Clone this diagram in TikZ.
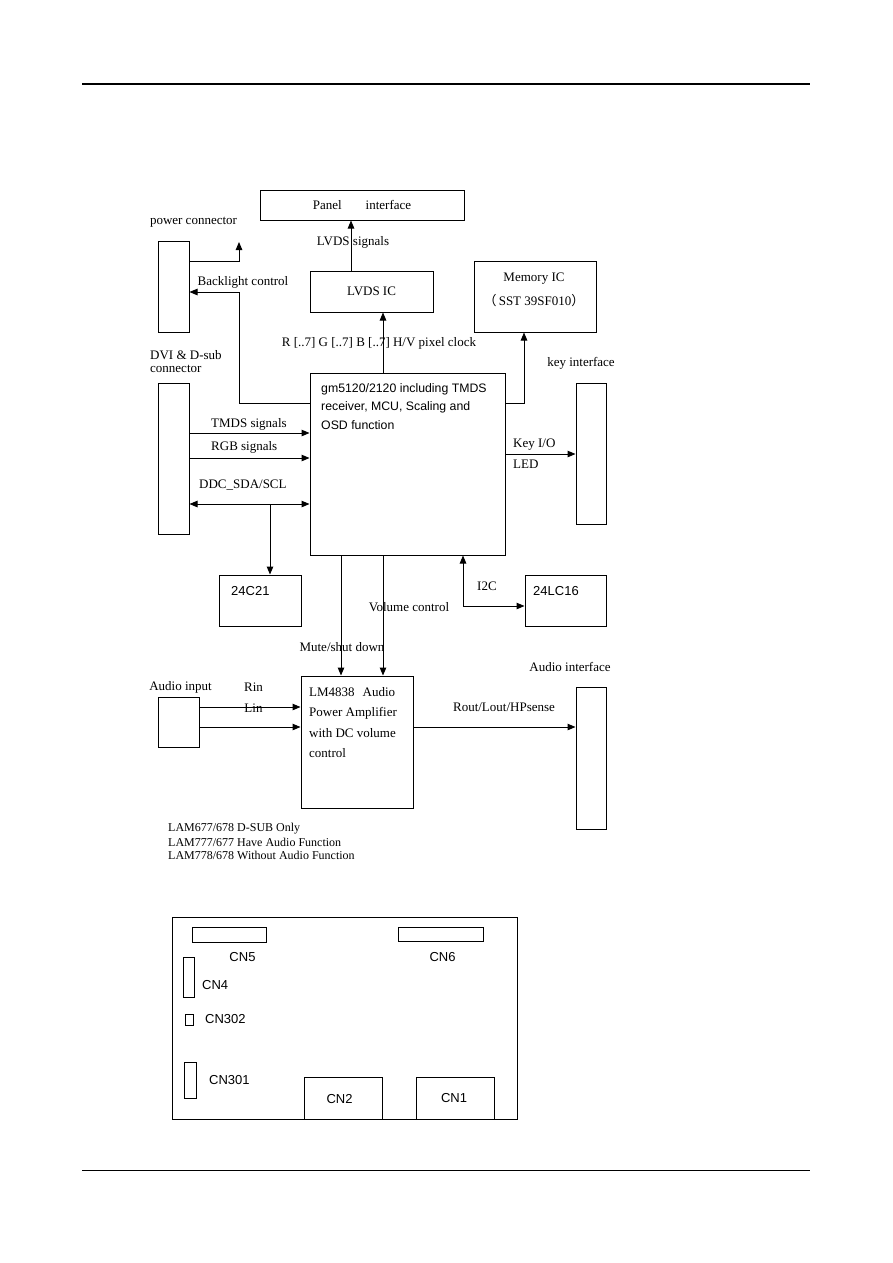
\documentclass[tikz,border=0pt]{standalone}
\usepackage{fontspec}
\setmainfont{Liberation Serif}
\newfontfamily\sansf{Liberation Sans}
\newfontfamily\cjk{Noto Sans CJK SC}
\usetikzlibrary{arrows.meta}
\begin{document}
\begin{tikzpicture}[x=1pt,y=-1pt,
  box/.style={draw, line width=1pt, inner sep=0pt, anchor=center},
  lbl/.style={font=\fontsize{13}{15}\selectfont, inner sep=0pt},
  gmt/.style={font=\sansf\fontsize{12.3}{14}\selectfont, inner sep=0pt, anchor=west},
  note/.style={font=\fontsize{12}{13}\selectfont, inner sep=0pt, anchor=west},
  cn/.style={font=\sansf\fontsize{13}{15}\selectfont, inner sep=0pt},
  arr/.style={line width=1pt, -{Triangle[length=8pt,width=6.5pt]}},
  darr/.style={line width=1pt, {Triangle[length=8pt,width=6.5pt]}-{Triangle[length=8pt,width=6.5pt]}},
  ln/.style={line width=1pt}]
\useasboundingbox (0,0) rectangle (893,1263);
\fill[white] (0,0) rectangle (893,1263);
% header / footer rules
\coordinate (hl) at (82,84); \coordinate (hr) at (810,84);
\draw[line width=1.6pt] (hl) -- (hr);
\coordinate (fl) at (82,1170); \coordinate (fr) at (810,1170);
\draw[line width=0.8pt] (fl) -- (fr);

% boxes
\node[box, minimum width=204pt, minimum height=30pt, lbl] (panel) at (362,205) {Panel\hspace{24pt}interface};
\node[box, minimum width=31pt, minimum height=91pt] (pwr) at (173.5,286.5) {};
\node[box, minimum width=123pt, minimum height=41pt, lbl] (lvds) at (371.5,291.5) {LVDS IC};
\node[box, minimum width=122pt, minimum height=71pt] (mem) at (535,296.5) {};
\node[box, minimum width=30pt, minimum height=141pt] (key) at (591,453.5) {};
\node[box, minimum width=195pt, minimum height=182pt] (gm) at (407.5,464) {};
\node[box, minimum width=31pt, minimum height=151pt] (dvi) at (173.5,458.5) {};
\node[box, minimum width=82pt, minimum height=51pt] (c21) at (260,600.5) {};
\node[box, minimum width=81pt, minimum height=51pt] (lc16) at (565.5,600.5) {};
\node[box, minimum width=112pt, minimum height=132pt] (lm) at (357,742) {};
\node[box, minimum width=41pt, minimum height=50pt] (ain) at (178.5,722) {};
\node[box, minimum width=30pt, minimum height=142pt] (aif) at (591,758) {};

% texts
\node[lbl] (tpwr) at (193.5,222) {power connector};
\node[lbl] (tbl) at (243,282) {Backlight control};
\node[lbl] (tlvds) at (353,242) {LVDS signals};
\node[lbl] (trgb) at (379,343) {R [..7] G [..7] B [..7] H/V pixel clock};
\node[lbl, anchor=west] (tdvi1) at (150,355) {DVI \& D-sub};
\node[lbl, anchor=west] (tdvi2) at (150,369) {connector};
\node[lbl] (tmem1) at (534,279) {Memory IC};
\node[lbl] (tmem2) at (534,301) {{\cjk （}\,SST 39SF010{\cjk ）}};
\node[lbl] (tkey) at (581,363) {key interface};
\node[gmt] (gm1) at (321,389) {gm5120/2120 including TMDS};
\node[gmt] (gm2) at (321,407) {receiver, MCU, Scaling and};
\node[gmt] (gm3) at (321,425) {OSD function};
\node[lbl, anchor=west] (tkio) at (513,445) {Key I/O};
\node[lbl, anchor=west] (tled) at (513,464) {LED};
\node[lbl, anchor=west] (ttmds) at (211,424) {TMDS signals};
\node[lbl, anchor=west] (trgbs) at (211,447) {RGB signals};
\node[lbl, anchor=west] (tddc) at (199,485) {DDC\_SDA/SCL};
\node[cn, anchor=west] (t21) at (231,591) {24C21};
\node[lbl, anchor=west] (ti2c) at (477,586) {I2C};
\node[cn, anchor=west] (t16) at (533,591) {24LC16};
\node[lbl] (tvol) at (409,607) {Volume control};
\node[lbl] (tmute) at (342,647) {Mute/shut down};
\node[lbl] (taif) at (570,667) {Audio interface};
\node[lbl] (tain) at (180.5,687) {Audio input};
\node[lbl] (trin) at (253.5,687) {Rin};
\node[lbl] (tlin) at (253.5,708) {Lin};
\node[lbl, anchor=west] (tlm1) at (309,692) {LM4838\hspace{8pt}Audio};
\node[lbl, anchor=west] (tlm2) at (309,713) {Power Amplifier};
\node[lbl, anchor=west] (tlm3) at (309,733) {with DC volume};
\node[lbl, anchor=west] (tlm4) at (309,753) {control};
\node[lbl] (trout) at (504,707) {Rout/Lout/HPsense};
\node[note] (n1) at (168,829) {LAM677/678 D-SUB Only};
\node[note] (n2) at (168,842) {LAM777/677 Have Audio Function};
\node[note] (n3) at (168,855) {LAM778/678 Without Audio Function};

% connectors
\coordinate (pwrtip) at (239,242);
\draw[arr] ([yshift=25.5pt]pwr.east) -| (pwrtip);
\coordinate (bl) at (239,292);
\draw[arr] ([yshift=61pt]gm.west) -| (bl) -- (bl -| pwr.east);
\draw[arr] ([xshift=-20.5pt]lvds.north) -- ([xshift=-20.5pt]lvds.north |- panel.south);
\draw[arr] ([xshift=-24.5pt]gm.north) -- ([xshift=-24.5pt]gm.north |- lvds.south);
\draw[arr] ([yshift=61pt]gm.east) -| ([xshift=-11pt]mem.south);
\draw[arr] ([yshift=10pt]gm.east) -- ([yshift=10pt]gm.east -| key.west);
\draw[arr] ([yshift=25.5pt]dvi.east) -- ([yshift=25.5pt]dvi.east -| gm.west);
\draw[arr] ([yshift=0.5pt]dvi.east) -- ([yshift=0.5pt]dvi.east -| gm.west);
\draw[darr] ([yshift=-45.5pt]dvi.east) -- ([yshift=-45.5pt]dvi.east -| gm.west);
\coordinate (ddcj) at (270,504);
\draw[arr] (ddcj) -- (ddcj |- c21.north);
\draw[darr] ([xshift=55.5pt]gm.south) |- ([yshift=-5.5pt]lc16.west);
\draw[arr] ([xshift=-66.5pt]gm.south) -- ([xshift=-66.5pt]gm.south |- lm.north);
\draw[arr] ([xshift=-24.5pt]gm.south) -- ([xshift=-24.5pt]gm.south |- lm.north);
\draw[arr] ([yshift=15pt]ain.east) -- ([yshift=15pt]ain.east -| lm.west);
\draw[arr] ([yshift=-5pt]ain.east) -- ([yshift=-5pt]ain.east -| lm.west);
\draw[arr] ([yshift=15pt]lm.east) -- ([yshift=15pt]lm.east -| aif.west);

% board layout
\node[box, minimum width=345pt, minimum height=202pt] (board) at (344.5,1018) {};
\node[box, minimum width=74pt, minimum height=15pt] (cn5) at (229,934.5) {};
\node[box, minimum width=85pt, minimum height=14pt] (cn6) at (440.5,934) {};
\node[box, minimum width=11pt, minimum height=40pt] (cn4) at (188.5,977) {};
\node[box, minimum width=8pt, minimum height=11pt] (cn302) at (189,1019.5) {};
\node[box, minimum width=12pt, minimum height=36pt] (cn301) at (190,1080) {};
\node[box, minimum width=78pt, minimum height=42pt] (cn2) at (343,1098) {};
\node[box, minimum width=78pt, minimum height=42pt] (cn1) at (455,1098) {};
\node[cn] (tcn5) at (242.5,957) {CN5};
\node[cn] (tcn6) at (442.5,957) {CN6};
\node[cn, anchor=west] (tcn4) at (202,985) {CN4};
\node[cn, anchor=west] (tcn302) at (205,1019) {CN302};
\node[cn, anchor=west] (tcn301) at (209,1080) {CN301};
\node[cn] (tcn2) at (339.5,1099) {CN2};
\node[cn] (tcn1) at (454,1098) {CN1};
\end{tikzpicture}
\end{document}
